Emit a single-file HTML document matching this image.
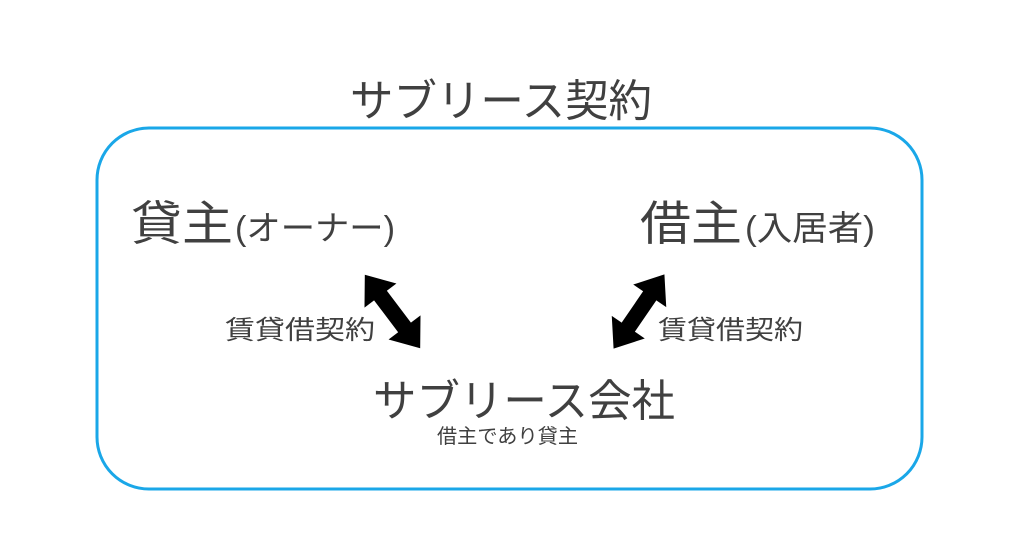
<!DOCTYPE html>
<html><head><meta charset="utf-8"><style>
html,body{margin:0;padding:0;background:#fff;}
svg{display:block;}
text{font-family:"Liberation Sans","Noto Sans CJK JP",sans-serif;fill:#404040;}
</style></head><body>
<svg width="1024" height="555" viewBox="0 0 1024 555" xmlns="http://www.w3.org/2000/svg">
<rect x="97" y="128" width="825" height="361" rx="52" ry="52" fill="none" stroke="#1aa7e8" stroke-width="3"/>
<text x="350" y="116" font-size="44" textLength="302" lengthAdjust="spacingAndGlyphs">サブリース契約</text>
<text x="131" y="240" font-size="47" textLength="102" lengthAdjust="spacingAndGlyphs">貸主</text>
<text x="235" y="240" font-size="34" textLength="160" lengthAdjust="spacingAndGlyphs">(オーナー)</text>
<text x="640" y="240" font-size="47" textLength="102" lengthAdjust="spacingAndGlyphs">借主</text>
<text x="745" y="240" font-size="34" textLength="130" lengthAdjust="spacingAndGlyphs">(入居者)</text>
<text x="225" y="339" font-size="26" textLength="150" lengthAdjust="spacingAndGlyphs">賃貸借契約</text>
<text x="658" y="339" font-size="26" textLength="145" lengthAdjust="spacingAndGlyphs">賃貸借契約</text>
<text x="373" y="416" font-size="44" textLength="302" lengthAdjust="spacingAndGlyphs">サブリース会社</text>
<text x="437" y="443" font-size="20" textLength="141" lengthAdjust="spacingAndGlyphs">借主であり貸主</text>
<g transform="translate(392.5,311.5) rotate(53)">
<polygon points="-46,0 -20,-20 -20,-8 20,-8 20,-20 46,0 20,20 20,8 -20,8 -20,20" fill="#000"/>
</g>
<g transform="translate(639,311.5) rotate(124.4)">
<polygon points="-45,0 -19,-20 -19,-8 19,-8 19,-20 45,0 19,20 19,8 -19,8 -19,20" fill="#000"/>
</g>
</svg>
</body></html>
